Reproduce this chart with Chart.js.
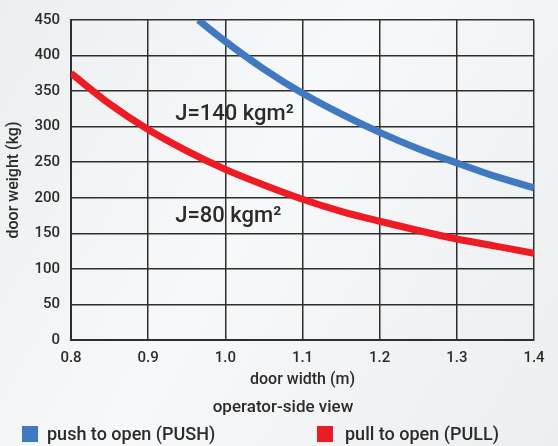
<!DOCTYPE html>
<html>
<head>
<meta charset="utf-8">
<script src="https://cdn.jsdelivr.net/npm/chart.js@4/dist/chart.umd.min.js"></script>
<style>
  html, body { margin: 0; padding: 0; }
  body {
    width: 558px; height: 446px; overflow: hidden;
    background: linear-gradient(120deg, #eceef0 0%, #f7f8f9 45%, #f2f3f5 70%, #eceef0 100%);
  }
  #wrap { position: relative; width: 558px; height: 446px; }
</style>
</head>
<body>
<div id="wrap"><canvas id="myChart" width="558" height="446"></canvas></div>
<script>
// door width (m) and door weight (kg)
const pushWidth = [0.965, 1.0, 1.05, 1.1, 1.15, 1.2, 1.25, 1.3, 1.35, 1.4];
const pushWeight = [450, 420, 381, 347, 318, 292, 269, 249, 230, 214];
const pullWidth = [0.8, 0.85, 0.9, 0.95, 1.0, 1.05, 1.1, 1.15, 1.2, 1.25, 1.3, 1.35, 1.4];
const pullWeight = [375, 332, 296, 266, 240, 218, 198, 181, 167, 154, 142, 132, 122];

const xTicks = [0.8, 0.9, 1.0, 1.1, 1.2, 1.3, 1.4];
const legendLabels = ['push to open (PUSH)', 'pull to open (PULL)'];
const notes = [
    {text: 'J=140 kgm²', x: 0.935, y: 317},
    {text: 'J=80 kgm²', x: 0.935, y: 174}
];

const BLUE = '#4179c0';
const RED = '#ed1c24';
const TXT = '#2b2b2b';
const FONT = 'Roboto';

function toPoints(xs, ys){
    return xs.map((x, i) => ({x: x, y: ys[i]}));
}

// text on the chart + subtitle + legend
const extras = {
    id: 'extras',
    afterDatasetsDraw(chart){
        const ctx = chart.ctx;
        const xs = chart.scales.x, ys = chart.scales.y;
        ctx.save();
        ctx.fillStyle = TXT;
        ctx.font = '500 22px ' + FONT;
        ctx.textBaseline = 'middle';
        ctx.textAlign = 'left';
        notes.forEach((n) => {
            ctx.fillText(n.text, xs.getPixelForValue(n.x), ys.getPixelForValue(n.y));
        });
        ctx.restore();
    },
    afterDraw(chart){
        const ctx = chart.ctx;
        ctx.save();
        ctx.fillStyle = TXT;
        ctx.font = '500 17px ' + FONT;
        ctx.textAlign = 'center';
        ctx.textBaseline = 'middle';
        ctx.fillText('operator-side view', 283, 408);

        ctx.textAlign = 'left';
        ctx.font = '500 18px ' + FONT;
        const items = [{c: BLUE, bx: 22, tx: 47}, {c: RED, bx: 317, tx: 345}];
        items.forEach((it, i) => {
            ctx.fillStyle = it.c;
            ctx.fillRect(it.bx, 426, 16, 16);
            ctx.fillStyle = TXT;
            ctx.fillText(legendLabels[i], it.tx, 435);
        });
        ctx.restore();
    }
};

const config = {
    type: 'line',
    data: {
        datasets: [{
            label: legendLabels[0],
            data: toPoints(pushWidth, pushWeight),
            borderColor: BLUE,
            borderWidth: 7,
            pointRadius: 0,
            cubicInterpolationMode: 'monotone',
            fill: false,
            clip: 0
        }, {
            label: legendLabels[1],
            data: toPoints(pullWidth, pullWeight),
            borderColor: RED,
            borderWidth: 7,
            pointRadius: 0,
            cubicInterpolationMode: 'monotone',
            fill: false,
            clip: 0
        }]
    },
    options: {
        responsive: false,
        animation: false,
        layout: {padding: {left: 4, right: 24, top: 16, bottom: 56}},
        plugins: {
            legend: {display: false},
            tooltip: {enabled: false}
        },
        scales: {
            x: {
                type: 'linear',
                min: 0.8, max: 1.4,
                afterBuildTicks: (axis) => { axis.ticks = xTicks.map((v) => ({value: v})); },
                afterFit: (axis) => { axis.height = 50; },
                grid: {color: '#2e2e2e', lineWidth: 1.5, drawTicks: false},
                border: {color: '#2e2e2e', width: 2},
                ticks: {
                    padding: 9,
                    color: TXT,
                    font: {family: FONT, size: 15, weight: '500'},
                    callback: (v) => v.toFixed(1)
                },
                title: {
                    display: true, text: 'door width (m)', color: TXT,
                    font: {family: FONT, size: 16, weight: '500'},
                    padding: {top: 0, bottom: 0}
                }
            },
            y: {
                min: 0, max: 450,
                afterFit: (axis) => { axis.width = 67; },
                grid: {color: '#2e2e2e', lineWidth: 1.5, drawTicks: false},
                border: {color: '#2e2e2e', width: 2},
                ticks: {
                    stepSize: 50, padding: 11, color: TXT,
                    font: {family: FONT, size: 15, weight: '500'}
                },
                title: {
                    display: true, text: 'door weight (kg)', color: TXT,
                    font: {family: FONT, size: 16, weight: '500'},
                    padding: {top: 0, bottom: 2}
                }
            }
        }
    },
    plugins: [extras]
};

var myChart = new Chart(document.getElementById('myChart'), config);
</script>
</body>
</html>
